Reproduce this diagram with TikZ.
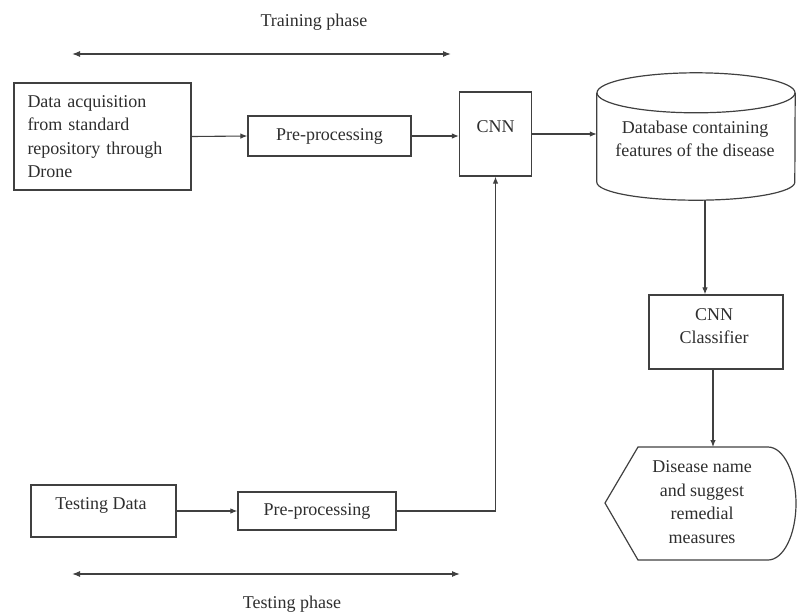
\documentclass[tikz,border=0pt]{standalone}
\usepackage{fontspec}
\setmainfont{Liberation Serif}
\usetikzlibrary{arrows.meta,calc}
\definecolor{ln}{HTML}{404040}
\definecolor{tx}{HTML}{2E2E2E}
\begin{document}
\begin{tikzpicture}[x=1pt,y=-1pt,
  every node/.style={text=tx,font=\fontsize{18}{23.5}\selectfont},
  box/.style={draw=ln,line width=1.2pt,rectangle,inner sep=0pt,align=center},
  conn/.style={draw=ln,line width=1.1pt,-{Latex[length=7pt,width=5.5pt]}},
  phase/.style={draw=ln,line width=1.2pt,{Latex[length=8pt,width=6pt]}-{Latex[length=8pt,width=6pt]}}]
\useasboundingbox (0,0) rectangle (798,614);
% training phase
\node (trl) at (314,22) {Training phase};
\coordinate (trA) at (72,54);
\coordinate (trB) at (451,54);
\draw[phase] (trA) -- (trB);
% top row
\node[box,minimum width=177pt,minimum height=107pt,text width=150pt,align=left] (acq) at (102.5,136.5)
  {Data acquisition\\from standard\\repository through\\Drone};
\node[box,minimum width=163pt,minimum height=40pt] (pre1) at (329.5,136) {Pre-processing};
\node[box,minimum width=72pt,minimum height=84pt] (cnn) at (495.5,134) {};
\node (cnnt) at (495.5,127) {CNN};
% database cylinder
\node[minimum width=198pt,minimum height=89pt,inner sep=0pt] (db) at (696,137.5) {};
\draw[draw=ln,line width=1.2pt,fill=white] (db.north) ellipse [x radius=99pt,y radius=20pt];
\draw[draw=ln,line width=1.2pt] (db.north west) -- (db.south west)
   arc[start angle=180,end angle=360,x radius=99pt,y radius=18pt] -- (db.north east);
\node[align=center] (dbt) at (695,139) {Database containing\\features of the disease};
\coordinate (dbout) at (705,200);
% classifier
\node[box,minimum width=134pt,minimum height=74pt] (cls) at (716,332) {};
\node[align=center] (clst) at (714,326) {CNN\\Classifier};
% display shape
\coordinate (dtop) at (713,447);
\draw[draw=ln,line width=1.2pt] (605,503) -- (638,447) -- (768,447)
   arc[start angle=90,end angle=-90,x radius=28pt,y radius=56.5pt] -- (638,560) -- cycle;
\node[align=center] (disp) at (702,502) {Disease name\\and suggest\\remedial\\measures};
% bottom row
\node[box,minimum width=145pt,minimum height=52pt] (test) at (103.5,511) {};
\node (testt) at (101,505) {Testing Data};
\node[box,minimum width=158pt,minimum height=38pt] (pre2) at (317,511) {Pre-processing};
% testing phase
\coordinate (teA) at (72,574);
\coordinate (teB) at (460,574);
\draw[phase] (teA) -- (teB);
\node (tel) at (292,604) {Testing phase};
% connectors
\draw[conn] (acq.east) -- (pre1.west);
\draw[conn] (pre1.east) -- (pre1.east -| cnn.west);
\draw[conn] (cnn.east) -- (cnn.east -| db.west);
\draw[conn] (dbout) -- (dbout |- cls.north);
\draw[conn] (cls.south -| dtop) -- (dtop);
\draw[conn] (test.east) -- (pre2.west);
\draw[conn] (pre2.east) -| (cnn.south);
\end{tikzpicture}
\end{document}
